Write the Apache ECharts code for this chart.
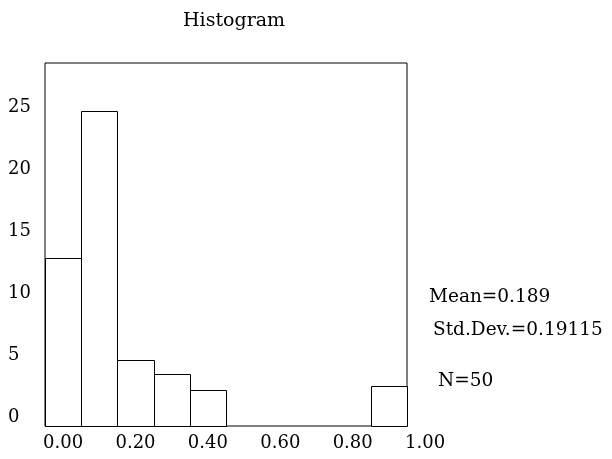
<!DOCTYPE html>
<html>
<head>
<meta charset="utf-8">
<script src="https://cdn.jsdelivr.net/npm/echarts@6/dist/echarts.min.js"></script>
<style>html,body{margin:0;padding:0;background:#fff}#c{width:612px;height:459px}</style>
</head>
<body>
<div id="c"></div>
<script>
// Bin centres (bin width 0.1) and bar heights
const binCenters = [0.0, 0.1, 0.2, 0.3, 0.4, 0.5, 0.6, 0.7, 0.8, 0.9];
const barValues  = [12.8, 24.7, 4.6, 3.5, 2.2, 0, 0, 0, 0, 2.5];
const binWidth = 0.1;
const xTickLabels = [0.00, 0.20, 0.40, 0.60, 0.80, 1.00];
const yTickLabels = [0, 5, 10, 15, 20, 25];
const statsLines = ['Mean=0.189', 'Std.Dev.=0.19115', 'N=50'];
const titleText = 'Histogram';

const FONT = 'DejaVu Serif';
const yMin = -0.7, yMax = 28.55;
const xMin = -0.05, xMax = 0.95;

const chart = echarts.init(document.getElementById('c'), null, {renderer: 'canvas'});
const option = {
  backgroundColor: '#fff',
  animation: false,
  textStyle: {fontFamily: FONT},
  grid: [
    {left: 45, top: 63, width: 362, height: 363, show: true, borderColor: '#000', borderWidth: 1, backgroundColor: 'transparent'},
    {left: 63.1, top: 107.3, width: 362, height: 310, show: false}
  ],
  xAxis: [
    {type: 'value', gridIndex: 0, min: xMin, max: xMax, show: false},
    {type: 'value', gridIndex: 1, min: xTickLabels[0], max: xTickLabels[xTickLabels.length - 1], interval: 0.2,
     axisLine: {show: false}, axisTick: {show: false}, splitLine: {show: false},
     axisLabel: {show: true, margin: 26.5, verticalAlign: 'middle', color: '#000', fontFamily: FONT, fontSize: 18,
                 formatter: v => v.toFixed(2)}}
  ],
  yAxis: [
    {type: 'value', gridIndex: 0, min: yMin, max: yMax, show: false},
    {type: 'value', gridIndex: 1, min: yTickLabels[0], max: yTickLabels[yTickLabels.length - 1], interval: 5,
     axisLine: {show: false}, axisTick: {show: false}, splitLine: {show: false},
     axisLabel: {show: true, margin: 55, align: 'left', verticalAlign: 'middle', color: '#000', fontFamily: FONT, fontSize: 18}}
  ],
  series: [{
    type: 'custom',
    xAxisIndex: 0, yAxisIndex: 0,
    data: binCenters.map((c, i) => [c, barValues[i]]),
    renderItem: function (params, api) {
      const x = api.value(0), v = api.value(1);
      if (!v) return null;
      const p1 = api.coord([x - binWidth / 2, v]);
      const p2 = api.coord([x + binWidth / 2, yMin]);
      const x1 = Math.round(p1[0]) + 0.5, y1 = Math.round(p1[1]) + 0.5;
      const x2 = Math.round(p2[0]) + 0.5, y2 = Math.round(p2[1]) + 0.5;
      return {type: 'rect', shape: {x: x1, y: y1, width: x2 - x1, height: y2 - y1},
              style: {fill: '#fff', stroke: '#000', lineWidth: 1}};
    },
    z: 3
  }],
  graphic: [
    {type: 'text', left: 234 - 51, top: 12, style: {text: titleText, font: '19px "DejaVu Serif"', fill: '#000'}},
    {type: 'text', left: 429, top: 287.5, style: {text: statsLines[0], font: '18.5px "DejaVu Serif"', fill: '#000'}},
    {type: 'text', left: 433, top: 321, style: {text: statsLines[1], font: '18.5px "DejaVu Serif"', fill: '#000'}},
    {type: 'text', left: 438, top: 372, style: {text: statsLines[2], font: '18.5px "DejaVu Serif"', fill: '#000'}}
  ]
};
chart.setOption(option);
</script>
</body>
</html>
